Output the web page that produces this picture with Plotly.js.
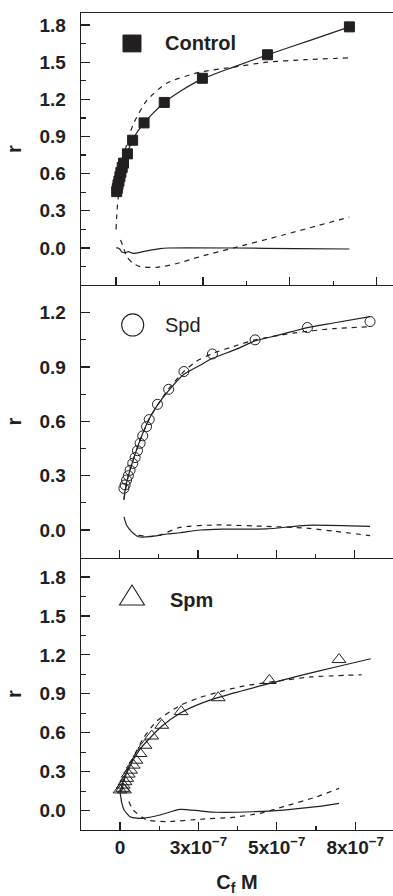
<!DOCTYPE html>
<html>
<head>
<meta charset="utf-8">
<script src="https://cdn.plot.ly/plotly-3.0.1.min.js"></script>
<style>html,body{margin:0;padding:0;background:#fff;}#chart{width:393px;height:896px;}</style>
</head>
<body>
<div id="chart"></div>
<script>
// x values in units of 1e-7 M
// ---- Control ----
const ctrlX = [0.02, 0.04, 0.06, 0.09, 0.12, 0.15, 0.19, 0.23, 0.35, 0.51, 0.86, 1.48, 2.65, 4.65, 7.16];
const ctrlY = [0.455, 0.48, 0.51, 0.54, 0.575, 0.61, 0.65, 0.685, 0.76, 0.87, 1.01, 1.175, 1.37, 1.56, 1.785];
const ctrlFitSolidX = [0.02, 0.06, 0.12, 0.22, 0.35, 0.51, 0.86, 1.48, 2.0, 2.65, 3.6, 4.65, 6.0, 7.16];
const ctrlFitSolidY = [0.44, 0.51, 0.575, 0.68, 0.77, 0.875, 1.01, 1.175, 1.27, 1.365, 1.46, 1.56, 1.68, 1.785];
const ctrlFitDashX = [0.0, 0.02, 0.04, 0.07, 0.14, 0.33, 0.53, 0.94, 1.55, 2.58, 3.6, 4.62, 5.8, 7.16];
const ctrlFitDashY = [0.15, 0.25, 0.33, 0.41, 0.6, 0.84, 1.0, 1.19, 1.33, 1.42, 1.46, 1.50, 1.52, 1.535];
const ctrlResSolidX = [0.0, 0.06, 0.12, 0.17, 0.28, 0.38, 0.53, 0.9, 1.35, 1.6, 3.6, 5.5, 7.16];
const ctrlResSolidY = [0.0, 0.0, -0.01, -0.03, -0.038, -0.03, -0.043, -0.025, -0.005, 0.0, 0.0, -0.005, -0.008];
const ctrlResDashX = [0.14, 0.22, 0.33, 0.5, 0.74, 1.25, 1.8, 2.58, 3.6, 5.13, 7.16];
const ctrlResDashY = [0.065, 0.01, -0.07, -0.12, -0.15, -0.156, -0.13, -0.07, 0.0, 0.105, 0.25];

// ---- Spd ----
const spdX = [0.15, 0.19, 0.24, 0.30, 0.36, 0.45, 0.53, 0.61, 0.70, 0.79, 0.92, 1.01, 1.29, 1.67, 2.19, 3.16, 4.61, 6.39, 8.52];
const spdY = [0.23, 0.249, 0.276, 0.30, 0.33, 0.368, 0.40, 0.438, 0.479, 0.52, 0.571, 0.61, 0.694, 0.777, 0.875, 0.972, 1.05, 1.118, 1.151];
const spdFitSolidX = [0.15, 0.19, 0.3, 0.45, 0.64, 0.83, 1.03, 1.29, 1.67, 2.19, 2.74, 3.16, 4.0, 4.61, 5.5, 6.39, 7.27, 8.52];
const spdFitSolidY = [0.166, 0.22, 0.3, 0.38, 0.47, 0.55, 0.62, 0.69, 0.77, 0.86, 0.91, 0.948, 1.0, 1.044, 1.08, 1.118, 1.143, 1.178];
const spdFitDashX = [0.15, 0.3, 0.64, 1.03, 1.67, 2.19, 2.6, 3.16, 4.0, 4.61, 5.9, 7.27, 8.52];
const spdFitDashY = [0.17, 0.3, 0.47, 0.62, 0.78, 0.876, 0.93, 0.975, 1.02, 1.05, 1.087, 1.112, 1.123];
const spdResSolidX = [0.15, 0.24, 0.41, 0.64, 1.04, 1.6, 2.06, 2.74, 3.5, 5.0, 6.37, 8.52];
const spdResSolidY = [0.073, 0.028, -0.009, -0.037, -0.037, -0.022, -0.015, 0.0, 0.005, 0.006, 0.026, 0.02];
const spdResDashX = [0.64, 1.04, 1.38, 2.06, 3.3, 5.0, 6.37, 7.27, 8.52];
const spdResDashY = [-0.03, -0.035, -0.028, 0.015, 0.028, 0.02, 0.01, -0.006, -0.031];

// ---- Spm ----
const spmX = [0.0, 0.15, 0.09, 0.11, 0.17, 0.23, 0.28, 0.36, 0.45, 0.54, 0.68, 0.85, 1.08, 1.42, 2.08, 3.34, 5.08, 7.45];
const spmY = [0.16, 0.16, 0.172, 0.197, 0.223, 0.249, 0.282, 0.312, 0.351, 0.389, 0.44, 0.504, 0.575, 0.658, 0.763, 0.87, 1.003, 1.164];
const spmFitSolidX = [0.0, 0.1, 0.25, 0.45, 0.7, 1.02, 1.42, 2.04, 2.8, 3.85, 5.0, 6.12, 7.3, 8.53];
const spmFitSolidY = [0.14, 0.22, 0.30, 0.39, 0.48, 0.56, 0.65, 0.75, 0.83, 0.905, 0.975, 1.04, 1.105, 1.17];
const spmFitDashX = [0.05, 0.1, 0.17, 0.3, 0.45, 0.8, 1.25, 2.04, 2.7, 3.34, 4.2, 5.08, 6.5, 8.22];
const spmFitDashY = [0.15, 0.18, 0.26, 0.34, 0.41, 0.56, 0.69, 0.81, 0.87, 0.913, 0.96, 0.99, 1.03, 1.047];
const spmResSolidX = [0.0, 0.03, 0.06, 0.14, 0.34, 0.57, 0.79, 1.36, 2.04, 2.72, 3.29, 4.53, 5.56, 6.69, 7.45];
const spmResSolidY = [0.14, 0.1, 0.06, 0.005, -0.046, -0.058, -0.058, -0.033, 0.01, -0.002, -0.012, -0.008, 0.005, 0.031, 0.057];
const spmResDashX = [0.3, 0.45, 0.91, 1.59, 2.72, 3.85, 4.76, 5.56, 6.69, 7.45];
const spmResDashY = [0.07, 0.005, -0.071, -0.084, -0.066, -0.051, -0.02, 0.031, 0.107, 0.172];

// ---- ticks ----
const xTickVals = [0, 2.667, 5.333, 8];
const xTickText = ["0", "3x10<sup>\u22127</sup>", "5x10<sup>\u22127</sup>", "8x10<sup>\u22127</sup>"];
const xMinorVals = [1.333, 4, 6.667];
const yTickVals1 = [0, 0.3, 0.6, 0.9, 1.2, 1.5, 1.8];
const yTickText1 = ["0.0", "0.3", "0.6", "0.9", "1.2", "1.5", "1.8"];
const yTickVals2 = [0, 0.3, 0.6, 0.9, 1.2];
const yTickText2 = ["0.0", "0.3", "0.6", "0.9", "1.2"];
const yMinor1 = [-0.15, 0.15, 0.45, 0.75, 1.05, 1.35, 1.65];
const yMinor2 = [0.15, 0.45, 0.75, 1.05];
const yMinor3 = [0.15, 0.45, 0.75, 1.05, 1.35, 1.65];

const INK = '#231f20';
const FONT = 'Liberation Sans, Arial, Helvetica, sans-serif';

function line(x, y, xa, ya, dashed) {
  return {x: x, y: y, xaxis: xa, yaxis: ya, mode: 'lines', type: 'scatter',
    line: {color: INK, width: 1.2, dash: dashed ? '5px,5px' : 'solid', shape: 'spline', smoothing: 0.6},
    hoverinfo: 'skip', showlegend: false};
}
function pts(x, y, xa, ya, symbol, size) {
  return {x: x, y: y, xaxis: xa, yaxis: ya, mode: 'markers', type: 'scatter',
    marker: {symbol: symbol, size: size, color: INK, line: {color: INK, width: 1}},
    showlegend: false};
}

const data = [
  line(ctrlFitDashX, ctrlFitDashY, 'x', 'y', true),
  line(ctrlResDashX, ctrlResDashY, 'x', 'y', true),
  line(ctrlFitSolidX, ctrlFitSolidY, 'x', 'y', false),
  line(ctrlResSolidX, ctrlResSolidY, 'x', 'y', false),
  pts(ctrlX, ctrlY, 'x', 'y', 'square', 10),

  line(spdFitDashX, spdFitDashY, 'x2', 'y2', true),
  line(spdResDashX, spdResDashY, 'x2', 'y2', true),
  line(spdFitSolidX, spdFitSolidY, 'x2', 'y2', false),
  line(spdResSolidX, spdResSolidY, 'x2', 'y2', false),
  pts(spdX, spdY, 'x2', 'y2', 'circle-open', 10),

  line(spmFitDashX, spmFitDashY, 'x3', 'y3', true),
  line(spmResDashX, spmResDashY, 'x3', 'y3', true),
  line(spmFitSolidX, spmFitSolidY, 'x3', 'y3', false),
  line(spmResSolidX, spmResSolidY, 'x3', 'y3', false),
  pts(spmX, spmY, 'x3', 'y3', 'triangle-up-open', 12)
];

const tickFont = {family: FONT, size: 19, color: INK, weight: 'bold'};

function xAxis(anchor, range, showLabels, mirror) {
  return {
    anchor: anchor, domain: [0, 1], range: range, showgrid: false, zeroline: false,
    showline: true, linecolor: INK, linewidth: 1.4, mirror: mirror,
    ticks: 'inside', ticklen: 8, tickwidth: 1.2, tickcolor: INK,
    tickmode: 'array', tickvals: xTickVals, ticktext: xTickText,
    showticklabels: showLabels, tickfont: tickFont, ticklabelstandoff: 0,
    minor: {tickmode: 'array', tickvals: xMinorVals, ticks: 'inside', ticklen: 4, tickwidth: 1.2, tickcolor: INK, showgrid: false},
    fixedrange: true
  };
}
function yAxis(anchor, domain, range, tv, tt, mv) {
  return {
    anchor: anchor, domain: domain, range: range, showgrid: false, zeroline: false,
    showline: true, linecolor: INK, linewidth: 1.4,
    ticks: 'inside', ticklen: 9, tickwidth: 1.2, tickcolor: INK,
    tickmode: 'array', tickvals: tv, ticktext: tt, tickfont: tickFont, ticklabelstandoff: 10,
    minor: {tickmode: 'array', tickvals: mv, ticks: 'inside', ticklen: 5, tickwidth: 1.2, tickcolor: INK, showgrid: false},
    title: {text: 'r', font: {family: FONT, size: 20, color: INK, weight: 'bold'}, standoff: 12},
    fixedrange: true
  };
}

const layout = {
  width: 393, height: 896,
  margin: {l: 81, r: 0, t: 13, b: 66},
  paper_bgcolor: '#fff', plot_bgcolor: '#fff',
  font: {family: FONT, color: INK},
  showlegend: false,
  xaxis: xAxis('y', [-1.074, 8.497], false, true),
  xaxis2: xAxis('y2', [-1.31, 9.30], false, false),
  xaxis3: Object.assign(xAxis('y3', [-1.327, 9.286], true, false), {
    title: {text: 'C<sub>f</sub> M', font: {family: FONT, size: 20, color: INK, weight: 'bold'}, standoff: 18}
  }),
  yaxis: yAxis('x', [0.6671, 1], [-0.2986, 1.897], yTickVals1, yTickText1, yMinor1),
  yaxis2: yAxis('x2', [0.3329, 0.6671], [-0.1546, 1.353], yTickVals2, yTickText2, yMinor2),
  yaxis3: yAxis('x3', [0, 0.3329], [-0.1487, 1.946], yTickVals1, yTickText1, yMinor3),
  shapes: [
    {type: 'rect', xref: 'x domain', yref: 'y domain', x0: 0.1346, x1: 0.1923, y0: 0.857, y1: 0.919,
      fillcolor: INK, line: {color: INK, width: 1}},
    {type: 'circle', xref: 'x2 domain', yref: 'y2 domain', x0: 0.1304, x1: 0.201, y0: 0.813, y1: 0.894,
      fillcolor: 'rgba(0,0,0,0)', line: {color: INK, width: 1.1}},
    {type: 'path', xref: 'x3 domain', yref: 'y3 domain', path: 'M 0.1635 0.9007 L 0.1234 0.827 L 0.2035 0.827 Z',
      fillcolor: 'rgba(0,0,0,0)', line: {color: INK, width: 1.1}}
  ],
  annotations: [
    {xref: 'x domain', yref: 'y domain', x: 0.2628, y: 0.8897, xanchor: 'left', yanchor: 'middle', showarrow: false,
      text: 'Control', font: {family: FONT, size: 20, color: INK, weight: 'bold'}},
    {xref: 'x2 domain', yref: 'y2 domain', x: 0.2619, y: 0.8535, xanchor: 'left', yanchor: 'middle', showarrow: false,
      text: 'Spd', font: {family: FONT, size: 20, color: INK}},
    {xref: 'x3 domain', yref: 'y3 domain', x: 0.278, y: 0.8456, xanchor: 'left', yanchor: 'middle', showarrow: false,
      text: 'Spm', font: {family: FONT, size: 20, color: INK, weight: 'bold'}}
  ]
};

Plotly.newPlot('chart', data, layout, {staticPlot: true, displayModeBar: false});
</script>
</body>
</html>
